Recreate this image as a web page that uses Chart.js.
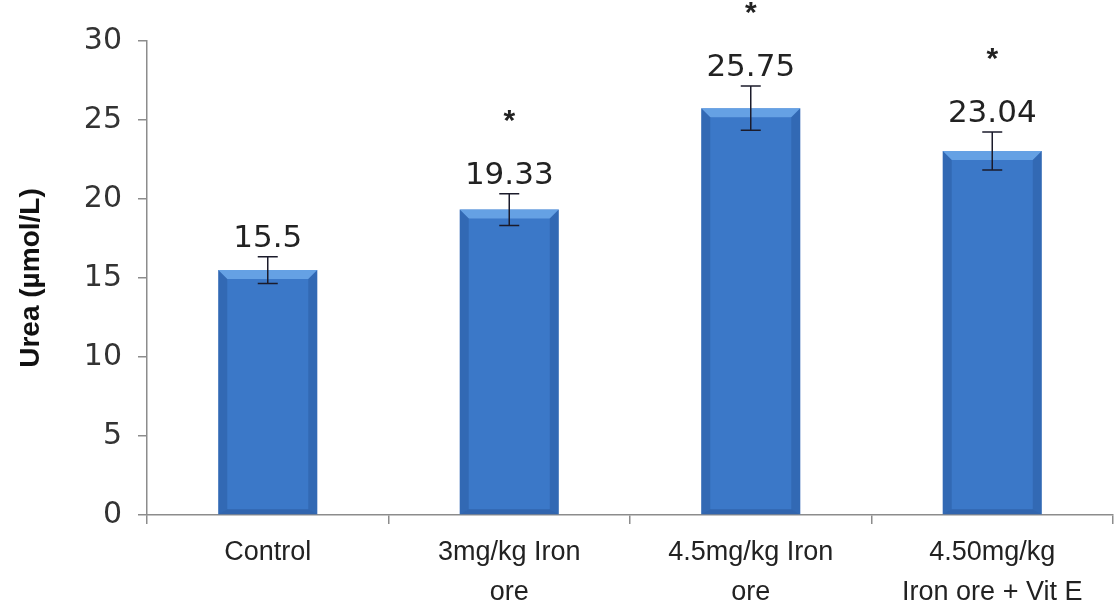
<!DOCTYPE html>
<html>
<head>
<meta charset="utf-8">
<script src="https://cdn.jsdelivr.net/npm/chart.js@4.4.1/dist/chart.umd.min.js"></script>
<style>
  html, body { margin: 0; padding: 0; background: #fff; }
  #wrap { width: 1118px; height: 611px; position: relative; }
</style>
</head>
<body>
<div id="wrap"><canvas id="c" width="1118" height="611"></canvas></div>
<script>
const categories = [["Control"], ["3mg/kg Iron", "ore"], ["4.5mg/kg Iron", "ore"], ["4.50mg/kg", "Iron ore + Vit E"]];
const ureaValues = [15.5, 19.33, 25.75, 23.04];
const ureaErrors = [0.85, 1.0, 1.4, 1.2];
const valueLabels = ["15.5", "19.33", "25.75", "23.04"];
const significance = ["", "*", "*", "*"];
const yTicks = [0, 5, 10, 15, 20, 25, 30];

const errorAndLabelPlugin = {
  id: 'errorAndLabel',
  afterDatasetsDraw(chart) {
    const ctx = chart.ctx;
    const meta = chart.getDatasetMeta(0);
    const y = chart.scales.y;
    meta.data.forEach((bar, i) => {
      const x = bar.x;
      const top = bar.y;
      const bottom = bar.base;
      const w = bar.width;
      const left = x - w / 2, right = x + w / 2;
      // bevel highlights
      ctx.save();
      const bev = 9;
      ctx.fillStyle = 'rgba(120,178,240,0.7)';
      ctx.beginPath();
      ctx.moveTo(left, top); ctx.lineTo(right, top);
      ctx.lineTo(right - bev, top + bev); ctx.lineTo(left + bev, top + bev);
      ctx.closePath(); ctx.fill();
      ctx.fillStyle = 'rgba(30,70,130,0.28)';
      ctx.beginPath();
      ctx.moveTo(left, top); ctx.lineTo(left + bev, top + bev);
      ctx.lineTo(left + bev, bottom - 5); ctx.lineTo(left, bottom);
      ctx.closePath(); ctx.fill();
      ctx.beginPath();
      ctx.moveTo(right, top); ctx.lineTo(right - bev, top + bev);
      ctx.lineTo(right - bev, bottom - 5); ctx.lineTo(right, bottom);
      ctx.closePath(); ctx.fill();
      ctx.fillStyle = 'rgba(25,60,115,0.3)';
      ctx.beginPath();
      ctx.moveTo(left, bottom); ctx.lineTo(left + bev, bottom - 5);
      ctx.lineTo(right - bev, bottom - 5); ctx.lineTo(right, bottom);
      ctx.closePath(); ctx.fill();
      ctx.restore();

      // error bars
      const v = ureaValues[i], e = ureaErrors[i];
      const yHi = y.getPixelForValue(v + e);
      const yLo = y.getPixelForValue(v - e);
      ctx.save();
      ctx.strokeStyle = '#1b1b2b';
      ctx.lineWidth = 1.5;
      ctx.beginPath();
      ctx.moveTo(x, yHi); ctx.lineTo(x, yLo);
      ctx.moveTo(x - 10, yHi); ctx.lineTo(x + 10, yHi);
      ctx.moveTo(x - 10, yLo); ctx.lineTo(x + 10, yLo);
      ctx.stroke();
      // value labels
      ctx.fillStyle = '#222';
      ctx.font = '31px "DejaVu Sans"';
      ctx.textAlign = 'center';
      ctx.textBaseline = 'alphabetic';
      const labelBottom = yHi - 10;
      ctx.fillText(valueLabels[i], x, labelBottom);
      if (significance[i]) {
        ctx.font = 'bold 30px "Liberation Sans"';
        ctx.textBaseline = 'middle';
        ctx.fillText(significance[i], x, labelBottom - 62);
      }
      ctx.restore();
    });
  }
};

const ctx = document.getElementById('c').getContext('2d');
function barGradient(context) {
  const chart = context.chart;
  const el = context.element;
  if (!el || el.x === undefined || !isFinite(el.x)) return '#3b78c8';
  const w = el.width || 100;
  const g = chart.ctx.createLinearGradient(el.x - w / 2, 0, el.x + w / 2, 0);
  g.addColorStop(0, '#2f66ad');
  g.addColorStop(0.5, '#4588d8');
  g.addColorStop(1, '#2f66ad');
  return g;
}

new Chart(ctx, {
  type: 'bar',
  data: {
    labels: categories,
    datasets: [{
      data: ureaValues,
      backgroundColor: barGradient,
      borderWidth: 0,
      categoryPercentage: 1.0,
      barPercentage: 0.41
    }]
  },
  options: {
    responsive: false,
    animation: false,
    layout: { padding: { top: 41, right: 5, left: 14, bottom: 0 } },
    plugins: { legend: { display: false }, tooltip: { enabled: false } },
    scales: {
      y: {
        min: 0, max: 30,
        afterBuildTicks(axis) { axis.ticks = yTicks.map(v => ({ value: v })); },
        afterFit(axis) { axis.width = 133; },
        border: { display: true, color: '#8c8c8c', width: 1.5 },
        grid: { display: true, drawOnChartArea: false, drawTicks: true, tickLength: 9, color: '#8c8c8c', lineWidth: 1.5 },
        ticks: { color: '#333', font: { family: 'DejaVu Sans', size: 30 }, padding: 16 },
        title: { display: true, text: 'Urea (µmol/L)', color: '#111', font: { family: 'Liberation Sans', size: 28, weight: 'bold' }, padding: { top: 0, bottom: 0 } }
      },
      x: {
        afterFit(axis) { axis.height = 96; },
        border: { display: true, color: '#8c8c8c', width: 1.5 },
        grid: { display: true, drawOnChartArea: false, drawTicks: true, tickLength: 9, color: '#8c8c8c', lineWidth: 1.5, offset: true },
        ticks: { color: '#222', font: { family: 'Liberation Sans Narrow, Liberation Sans', size: 27, lineHeight: 1.5 }, padding: 8, maxRotation: 0, autoSkip: false }
      }
    }
  },
  plugins: [errorAndLabelPlugin]
});
</script>
</body>
</html>
